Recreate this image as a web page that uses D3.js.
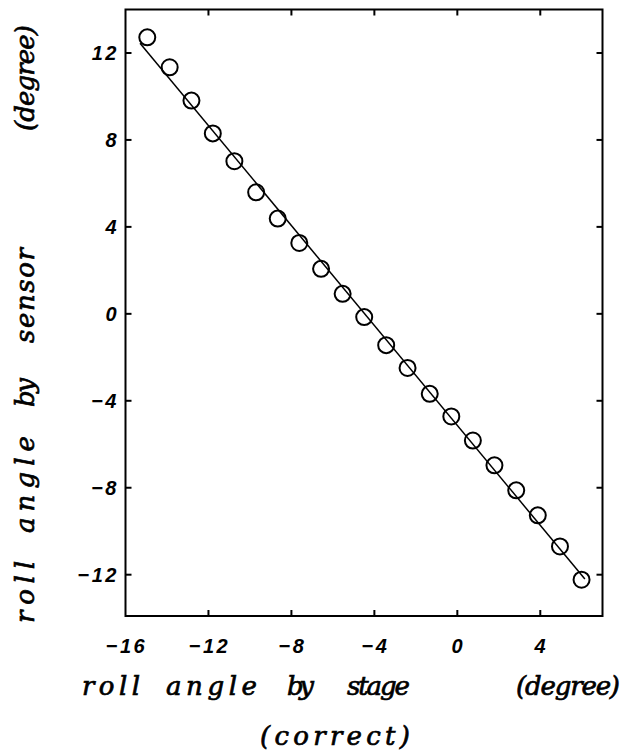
<!DOCTYPE html>
<html>
<head>
<meta charset="utf-8">
<script src="https://cdn.jsdelivr.net/npm/d3@7"></script>
<style>
  html, body { margin: 0; padding: 0; background: #fff; }
  svg { display: block; }
  .tick-label { font-family: "Liberation Sans", Arial, sans-serif; font-style: italic; font-weight: bold; font-size: 20px; letter-spacing: 2.5px; fill: #000; }
  .axis-title { font-family: "DejaVu Serif", serif; font-style: italic; font-size: 26px; fill: #000; stroke: #000; stroke-width: 0.7px; }
</style>
</head>
<body>
<svg id="chart" width="637" height="756"></svg>
<script>
// Roll angle from the stage (reference) vs. roll angle reported by the sensor
const stageAngle  = [-14.95, -13.87, -12.82, -11.79, -10.75, -9.70, -8.66, -7.62, -6.57, -5.53,
                     -4.49, -3.43, -2.40, -1.33, -0.29, 0.75, 1.79, 2.84, 3.88, 4.95, 5.99];
const sensorAngle = [12.72, 11.34, 9.81, 8.30, 7.02, 5.59, 4.38, 3.26, 2.07, 0.92,
                     -0.15, -1.44, -2.49, -3.68, -4.72, -5.83, -6.97, -8.12, -9.27, -10.70, -12.23];
// Fitted straight line, given by its two end points
const fitStage  = [-15.3, 6.15];
const fitSensor = [12.45, -12.2];

const xTicks = [-16, -12, -8, -4, 0, 4];
const yTicks = [-12, -8, -4, 0, 4, 8, 12];
const xDomain = [-16, 7];
const yDomain = [-13.9, 14];

// Axis title words as typeset: [word, start, length] along the axis direction
const xTitleWords = [["roll", 82, 58], ["angle", 166, 91], ["by", 287, 27], ["stage", 347, 63], ["(degree)", 516, 104]];
const xSubtitle   = [["(correct)", 260, 150]];
const yTitleWords = [["roll", 0, 62], ["angle", 90, 97], ["by", 216, 29], ["sensor", 280, 95], ["(degree)", 492, 106]];

const svg = d3.select("#chart");
const plot = { left: 125.5, right: 602.5, top: 9.5, bottom: 616 };

const x = d3.scaleLinear().domain(xDomain).range([plot.left, plot.right]);
const y = d3.scaleLinear().domain(yDomain).range([plot.bottom, plot.top]);

const fmt = d => d < 0 ? "\u2212" + Math.abs(d) : String(d);

// Frame
svg.append("rect")
  .attr("x", plot.left).attr("y", plot.top)
  .attr("width", plot.right - plot.left).attr("height", plot.bottom - plot.top)
  .attr("fill", "none").attr("stroke", "#000").attr("stroke-width", 2);

// Inward ticks on all four sides
const tickLen = 6;
const innerX = xTicks.filter(d => d > xDomain[0] && d < xDomain[1]);
const innerY = yTicks.filter(d => d > yDomain[0] && d < yDomain[1]);
const tg = svg.append("g").attr("stroke", "#000").attr("stroke-width", 2);
innerX.forEach(d => {
  tg.append("line").attr("x1", x(d)).attr("x2", x(d)).attr("y1", plot.bottom).attr("y2", plot.bottom - tickLen);
  tg.append("line").attr("x1", x(d)).attr("x2", x(d)).attr("y1", plot.top).attr("y2", plot.top + tickLen);
});
innerY.forEach(d => {
  tg.append("line").attr("y1", y(d)).attr("y2", y(d)).attr("x1", plot.left).attr("x2", plot.left + tickLen);
  tg.append("line").attr("y1", y(d)).attr("y2", y(d)).attr("x1", plot.right).attr("x2", plot.right - tickLen);
});

// Tick labels
svg.append("g").selectAll("text").data(xTicks).join("text")
  .attr("class", "tick-label")
  .attr("x", d => x(d) + 1).attr("y", 653)
  .attr("text-anchor", "middle")
  .text(fmt);

svg.append("g").selectAll("text").data(yTicks).join("text")
  .attr("class", "tick-label")
  .attr("x", 119).attr("y", d => y(d) + 7)
  .attr("text-anchor", "end")
  .text(fmt);

// Fitted line
svg.append("path")
  .datum(d3.zip(fitStage, fitSensor))
  .attr("fill", "none").attr("stroke", "#000").attr("stroke-width", 1.5)
  .attr("d", d3.line().x(d => x(d[0])).y(d => y(d[1])));

// Measured points
svg.append("g").selectAll("circle").data(d3.zip(stageAngle, sensorAngle)).join("circle")
  .attr("cx", d => x(d[0])).attr("cy", d => y(d[1]))
  .attr("r", 8)
  .attr("fill", "none").attr("stroke", "#000").attr("stroke-width", 2);

// Axis titles, each word fitted to its own slot
function words(g, list, baseline) {
  g.selectAll(null).data(list).join("text")
    .attr("class", "axis-title")
    .attr("x", d => d[1]).attr("y", baseline)
    .attr("textLength", d => d[2]).attr("lengthAdjust", "spacing")
    .text(d => d[0]);
}

words(svg.append("g"), xTitleWords, 695);
words(svg.append("g"), xSubtitle, 745);
words(svg.append("g").attr("transform", "translate(34,623) rotate(-90)"), yTitleWords, 0);
</script>
</body>
</html>
